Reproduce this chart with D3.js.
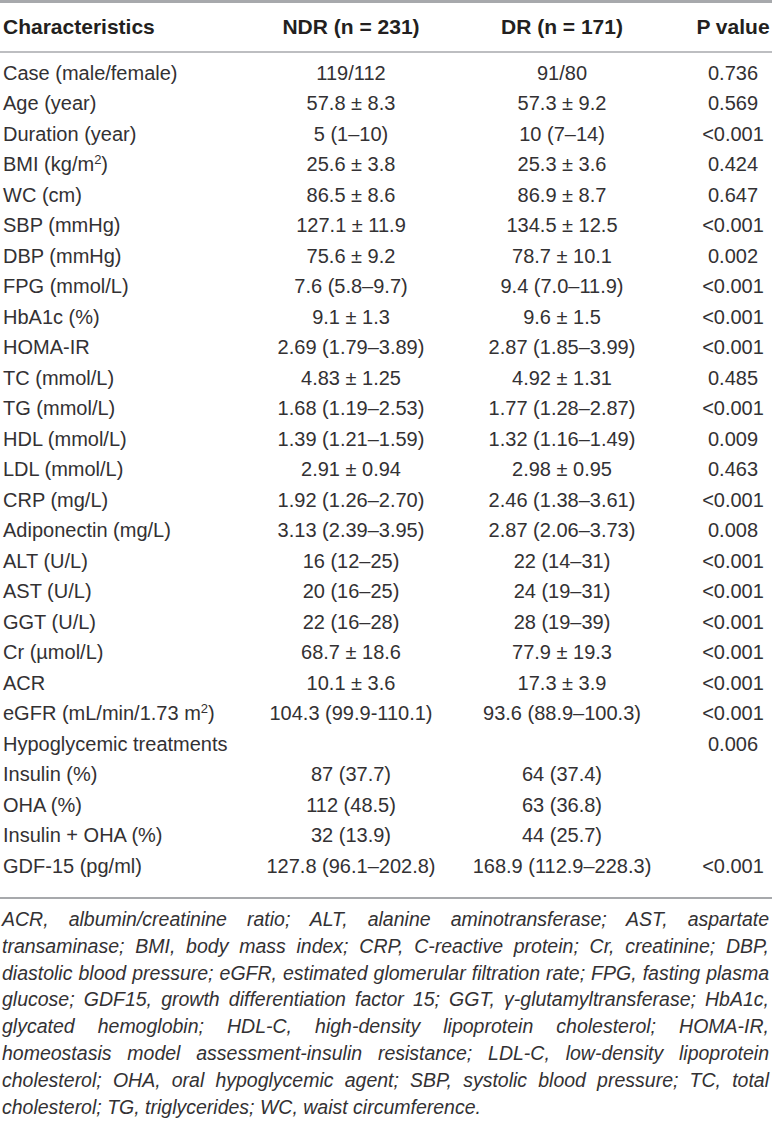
<!DOCTYPE html>
<html>
<head>
<meta charset="utf-8">
<script src="https://cdn.jsdelivr.net/npm/d3@7"></script>
<style>
  html, body { margin: 0; padding: 0; background: #fff; }
  svg { display: block; font-family: "Liberation Sans", Arial, sans-serif; }
</style>
</head>
<body>
<svg id="chart"></svg>
<script>
const columns = ["Characteristics", "NDR (n = 231)", "DR (n = 171)", "P value"];

// "^" marks a superscript
const labels = [
  "Case (male/female)", "Age (year)", "Duration (year)", "BMI (kg/m^2)", "WC (cm)",
  "SBP (mmHg)", "DBP (mmHg)", "FPG (mmol/L)", "HbA1c (%)", "HOMA-IR", "TC (mmol/L)",
  "TG (mmol/L)", "HDL (mmol/L)", "LDL (mmol/L)", "CRP (mg/L)", "Adiponectin (mg/L)",
  "ALT (U/L)", "AST (U/L)", "GGT (U/L)", "Cr (\u00b5mol/L)", "ACR",
  "eGFR (mL/min/1.73 m^2)", "Hypoglycemic treatments", "Insulin (%)", "OHA (%)",
  "Insulin + OHA (%)", "GDF-15 (pg/ml)"
];

const ndrValues = [
  "119/112", "57.8 \u00b1 8.3", "5 (1\u201310)", "25.6 \u00b1 3.8", "86.5 \u00b1 8.6",
  "127.1 \u00b1 11.9", "75.6 \u00b1 9.2", "7.6 (5.8\u20139.7)", "9.1 \u00b1 1.3",
  "2.69 (1.79\u20133.89)", "4.83 \u00b1 1.25", "1.68 (1.19\u20132.53)", "1.39 (1.21\u20131.59)",
  "2.91 \u00b1 0.94", "1.92 (1.26\u20132.70)", "3.13 (2.39\u20133.95)", "16 (12\u201325)",
  "20 (16\u201325)", "22 (16\u201328)", "68.7 \u00b1 18.6", "10.1 \u00b1 3.6",
  "104.3 (99.9-110.1)", "", "87 (37.7)", "112 (48.5)", "32 (13.9)", "127.8 (96.1\u2013202.8)"
];

const drValues = [
  "91/80", "57.3 \u00b1 9.2", "10 (7\u201314)", "25.3 \u00b1 3.6", "86.9 \u00b1 8.7",
  "134.5 \u00b1 12.5", "78.7 \u00b1 10.1", "9.4 (7.0\u201311.9)", "9.6 \u00b1 1.5",
  "2.87 (1.85\u20133.99)", "4.92 \u00b1 1.31", "1.77 (1.28\u20132.87)", "1.32 (1.16\u20131.49)",
  "2.98 \u00b1 0.95", "2.46 (1.38\u20133.61)", "2.87 (2.06\u20133.73)", "22 (14\u201331)",
  "24 (19\u201331)", "28 (19\u201339)", "77.9 \u00b1 19.3", "17.3 \u00b1 3.9",
  "93.6 (88.9\u2013100.3)", "", "64 (37.4)", "63 (36.8)", "44 (25.7)", "168.9 (112.9\u2013228.3)"
];

const pValues = [
  "0.736", "0.569", "<0.001", "0.424", "0.647", "<0.001", "0.002", "<0.001", "<0.001",
  "<0.001", "0.485", "<0.001", "0.009", "0.463", "<0.001", "0.008", "<0.001", "<0.001",
  "<0.001", "<0.001", "<0.001", "<0.001", "0.006", "", "", "", "<0.001"
];

const footnoteLines = [
  "ACR, albumin/creatinine ratio; ALT, alanine aminotransferase; AST, aspartate",
  "transaminase; BMI, body mass index; CRP, C-reactive protein; Cr, creatinine; DBP,",
  "diastolic blood pressure; eGFR, estimated glomerular filtration rate; FPG, fasting plasma",
  "glucose; GDF15, growth differentiation factor 15; GGT, \u03b3-glutamyltransferase; HbA1c,",
  "glycated hemoglobin; HDL-C, high-density lipoprotein cholesterol; HOMA-IR,",
  "homeostasis model assessment-insulin resistance; LDL-C, low-density lipoprotein",
  "cholesterol; OHA, oral hypoglycemic agent; SBP, systolic blood pressure; TC, total",
  "cholesterol; TG, triglycerides; WC, waist circumference."
];

const width = 772;
const height = 1121;
const fontSize = 20;
const headColor = "#231f20";
const textColor = "#333133";
const ruleColor = "#a7a9ac";

const rows = labels.map((label, i) => ({
  label,
  cells: [ndrValues[i], drValues[i], pValues[i]]
}));

const svg = d3
  .select("#chart")
  .attr("width", width)
  .attr("height", height)
  .attr("viewBox", `0 0 ${width} ${height}`);

// column centres (first column is left aligned)
const xScale = d3
  .scaleOrdinal()
  .domain(columns)
  .range([3, 351, 562, 733]);

const yScale = d3
  .scaleBand()
  .domain(labels)
  .range([57.5, 57.5 + labels.length * 30.5]);

const rowMid = (label) => yScale(label) + yScale.bandwidth() / 2;

// rules
const rules = [
  { y: 1.5, w: 3 },
  { y: 52, w: 1.5 },
  { y: 898, w: 2 }
];
svg
  .selectAll("line.rule")
  .data(rules)
  .enter()
  .append("line")
  .attr("class", "rule")
  .attr("x1", 0)
  .attr("x2", width)
  .attr("y1", (d) => d.y)
  .attr("y2", (d) => d.y)
  .attr("stroke", ruleColor)
  .attr("stroke-width", (d) => d.w);

// header
svg
  .append("g")
  .attr("class", "header")
  .selectAll("text")
  .data(columns)
  .enter()
  .append("text")
  .attr("x", (d) => xScale(d))
  .attr("y", 26)
  .attr("dy", "0.36em")
  .attr("text-anchor", (d, i) => (i === 0 ? "start" : "middle"))
  .attr("font-size", 21)
  .attr("font-weight", "bold")
  .attr("fill", headColor)
  .text((d) => d);

// body rows
const rowG = svg
  .append("g")
  .attr("class", "body")
  .selectAll("g")
  .data(rows)
  .enter()
  .append("g")
  .attr("transform", (d) => `translate(0, ${rowMid(d.label)})`);

const labelText = rowG
  .append("text")
  .attr("x", xScale(columns[0]))
  .attr("dy", "0.36em")
  .attr("font-size", fontSize)
  .attr("fill", textColor);

labelText.each(function (d) {
  const t = d3.select(this);
  const parts = d.label.split(/\^(\d)/);
  parts.forEach((p, i) => {
    if (!p) return;
    const span = t.append("tspan").text(p);
    if (i % 2 === 1) {
      span.attr("baseline-shift", "super").attr("font-size", fontSize * 0.65);
    }
  });
});

rowG
  .selectAll("text.cell")
  .data((d) => d.cells.map((v, i) => ({ v, col: columns[i + 1] })))
  .enter()
  .append("text")
  .attr("class", "cell")
  .attr("x", (d) => xScale(d.col))
  .attr("dy", "0.36em")
  .attr("text-anchor", "middle")
  .attr("font-size", fontSize)
  .attr("fill", textColor)
  .text((d) => d.v);

// footnote, justified except the last line
const noteLeft = 2;
const noteRight = 769;
const noteTop = 919;
const notePitch = 26.8;

const notes = svg
  .append("g")
  .attr("class", "footnote")
  .selectAll("text")
  .data(footnoteLines)
  .enter()
  .append("text")
  .attr("x", noteLeft)
  .attr("y", (d, i) => noteTop + i * notePitch)
  .attr("dy", "0.36em")
  .attr("font-size", 19.5)
  .attr("font-style", "italic")
  .attr("fill", textColor)
  .text((d) => d);

notes.each(function (d, i) {
  if (i === footnoteLines.length - 1) return;
  const gaps = d.split(" ").length - 1;
  const natural = this.getComputedTextLength();
  const extra = (noteRight - noteLeft - natural) / gaps;
  d3.select(this).style("word-spacing", `${extra}px`);
});
</script>
</body>
</html>
